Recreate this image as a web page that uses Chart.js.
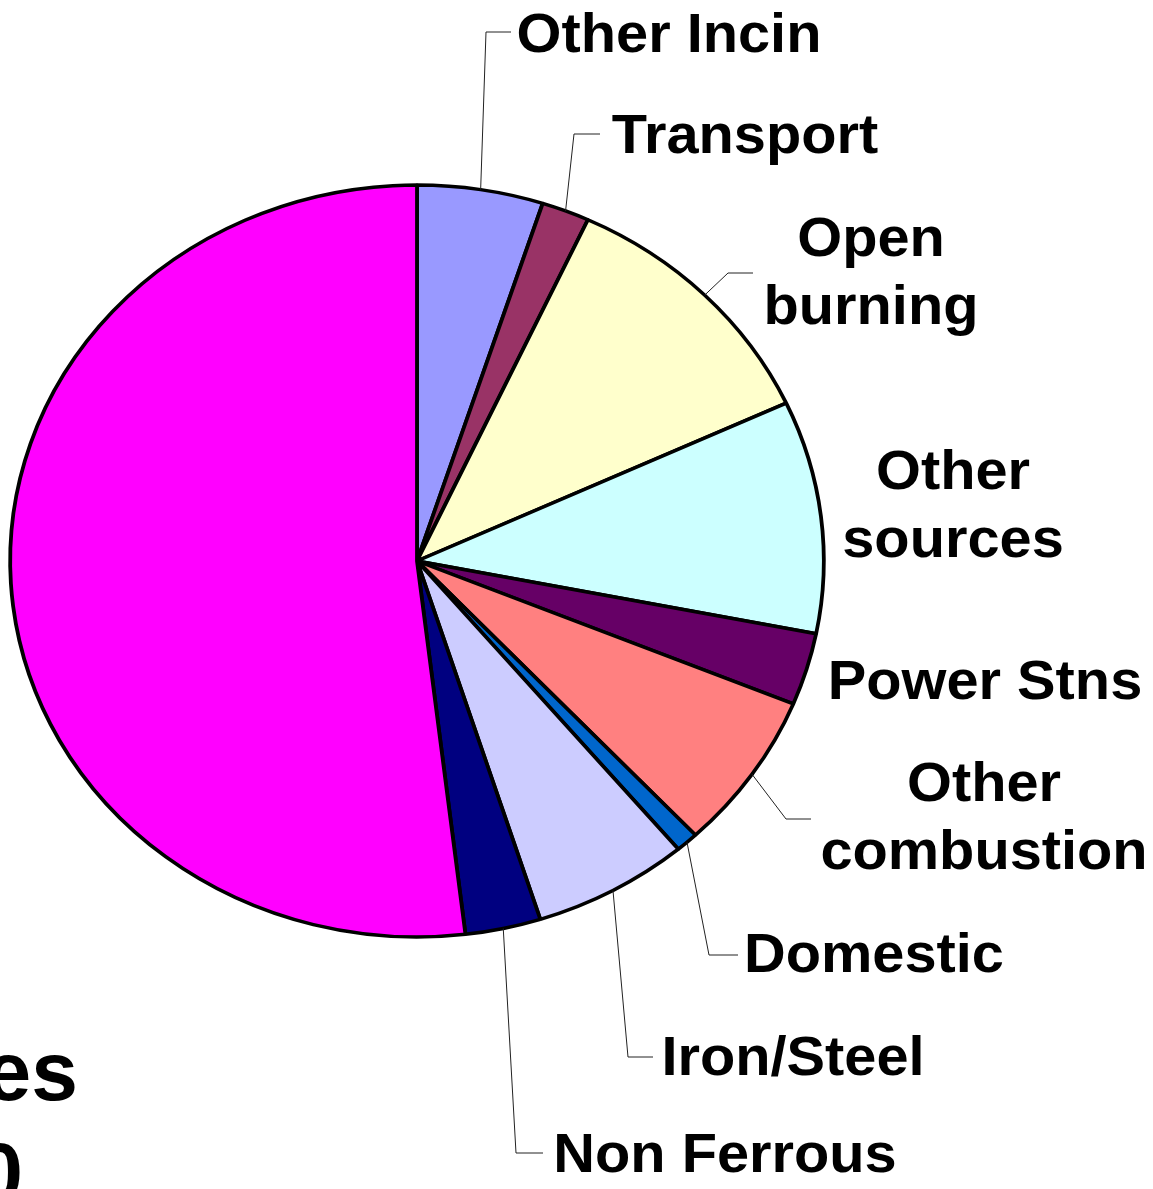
<!DOCTYPE html>
<html>
<head>
<meta charset="utf-8">
<script src="https://cdn.jsdelivr.net/npm/chart.js@4/dist/chart.umd.min.js"></script>
<style>
  html, body { margin: 0; padding: 0; background: #fff; }
  #pie { display: block; }
</style>
</head>
<body>
<canvas id="pie" width="1153" height="1189"></canvas>
<script>
// slices, clockwise from 12 o'clock
const categories = ['Other Incin', 'Transport', 'Open burning', 'Other sources', 'Power Stns',
                    'Other combustion', 'Domestic', 'Iron/Steel', 'Non Ferrous', 'Largest source'];
const shares = [5.0, 1.9, 11.2, 10.0, 3.1, 6.8, 0.9, 6.2, 3.0, 51.9];
const labelLines = [['Other Incin'], ['Transport'], ['Open', 'burning'], ['Other', 'sources'], ['Power Stns'],
                    ['Other', 'combustion'], ['Domestic'], ['Iron/Steel'], ['Non Ferrous'], []];
const colours = ['#9999FF', '#993366', '#FFFFCC', '#CCFFFF', '#660066',
                 '#FF8080', '#0066CC', '#CCCCFF', '#000080', '#FF00FF'];
// clipped text at the bottom left edge of the slide
const cutText = ['es', '0'];

// label layout (centre x, first baseline y) and leader elbows
const labelPos = [
    {x: 669, y: 52}, {x: 745, y: 153}, {x: 871, y: 256}, {x: 953, y: 489}, {x: 985, y: 699},
    {x: 984, y: 801}, {x: 874, y: 972}, {x: 793, y: 1075}, {x: 725, y: 1172}, null
];
const leaders = [
    [486, 32, 511], [574, 134, 600], [728, 273, 753], null, null,
    [786, 819, 811], [709, 955, 738], [628, 1057, 653], [516, 1153, 543], null
];

const stretch = 1.082;      // the pie is a bit wider than tall
const textStretch = 1.05;   // so is the lettering
const labelFont = 'bold 55px "Liberation Sans", Arial, sans-serif';

const stretchPlugin = {
    id: 'stretch',
    beforeDatasetsDraw(chart) {
        const arc = chart.getDatasetMeta(0).data[0];
        const ctx = chart.ctx;
        ctx.save();
        ctx.translate(arc.x, 0);
        ctx.scale(stretch, 1);
        ctx.translate(-arc.x, 0);
    },
    afterDatasetsDraw(chart) {
        chart.ctx.restore();
    }
};

function wideText(ctx, txt, x, y) {
    ctx.save();
    ctx.translate(x, y);
    ctx.scale(textStretch, 1);
    ctx.fillText(txt, 0, 0);
    ctx.restore();
}

const labelPlugin = {
    id: 'sliceLabels',
    afterDraw(chart) {
        const ctx = chart.ctx;
        const meta = chart.getDatasetMeta(0);
        ctx.save();
        meta.data.forEach((arc, i) => {
            const p = arc.getProps(['x', 'y', 'startAngle', 'endAngle', 'outerRadius'], true);
            const mid = (p.startAngle + p.endAngle) / 2;
            const ax = p.x + Math.cos(mid) * p.outerRadius * stretch;
            const ay = p.y + Math.sin(mid) * p.outerRadius;
            const ld = leaders[i];
            if (ld) {
                ctx.beginPath();
                ctx.strokeStyle = '#222';
                ctx.lineWidth = 1;
                ctx.moveTo(ax, ay);
                ctx.lineTo(ld[0], ld[1]);
                ctx.lineTo(ld[2], ld[1]);
                ctx.stroke();
            }
            const lp = labelPos[i];
            if (lp) {
                ctx.font = labelFont;
                ctx.fillStyle = '#000';
                ctx.textAlign = 'center';
                ctx.textBaseline = 'alphabetic';
                labelLines[i].forEach((line, k) => wideText(ctx, line, lp.x, lp.y + k * 68));
            }
        });
        ctx.font = 'bold 84px "Liberation Sans", Arial, sans-serif';
        ctx.textAlign = 'right';
        ctx.fillStyle = '#000';
        ctx.fillText(cutText[0], 78, 1100);
        ctx.fillText(cutText[1], 23, 1201);
        ctx.restore();
    }
};

new Chart(document.getElementById('pie').getContext('2d'), {
    type: 'pie',
    data: {
        labels: categories,
        datasets: [{
            data: shares,
            backgroundColor: colours,
            borderColor: '#000',
            borderWidth: 3.5,
            radius: 376,
            clip: false
        }]
    },
    options: {
        responsive: false,
        animation: false,
        layout: { padding: { left: 0, top: 0, right: 319, bottom: 67 } },
        plugins: {
            legend: { display: false },
            tooltip: { enabled: false }
        }
    },
    plugins: [stretchPlugin, labelPlugin]
});
</script>
</body>
</html>
